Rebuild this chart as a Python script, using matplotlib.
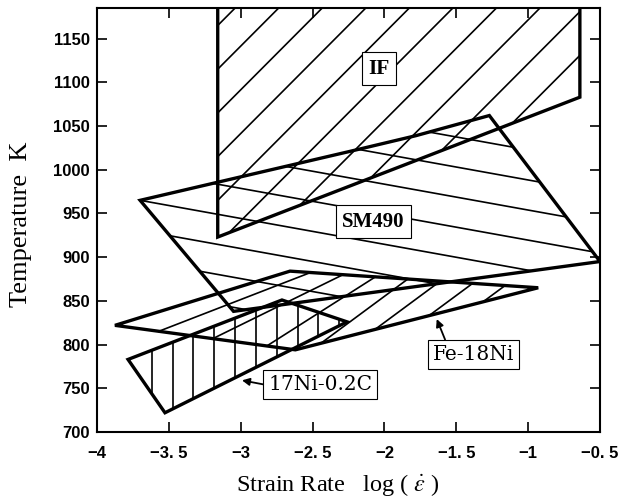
import numpy as np
import matplotlib as mpl
import matplotlib.pyplot as plt
from matplotlib.patches import Polygon

mpl.rcParams.update({
    "font.family": "serif",
    "font.serif": ["Liberation Serif", "DejaVu Serif"],
    "mathtext.fontset": "stix",
    "xtick.direction": "in",
    "ytick.direction": "in",
    "xtick.top": True,
    "ytick.right": True,
    "axes.linewidth": 1.5,
})

xTicks = [-4, -3.5, -3, -2.5, -2, -1.5, -1, -0.5]
xTickLabels = ["\u22124", "\u22123. 5", "\u22123", "\u22122. 5", "\u22122", "\u22121. 5", "\u22121", "\u22120. 5"]
yTicks = [700, 750, 800, 850, 900, 950, 1000, 1050, 1100, 1150]

# region outlines: log strain rate vs temperature (K)
ifRate = [-3.16, -3.16, -0.64, -0.64]
ifTemp = [1200, 923, 1083, 1200]
smRate = [-3.70, -2.24, -1.78, -1.27, -0.50, -3.05]
smTemp = [965, 1021, 1039, 1062, 895, 838]
feRate = [-3.875, -2.657, -0.93, -2.62]
feTemp = [822, 884, 865, 794]
niRate = [-3.784, -2.713, -2.26, -3.527]
niTemp = [783, 851, 826, 722]

HATCH_LW = 1.2
EDGE_LW = 2.4


def addRegion(ax, rate, temp):
    patch = Polygon(np.column_stack([rate, temp]), closed=True, fill=False,
                    ec="black", lw=EDGE_LW, joinstyle="miter", zorder=4)
    ax.add_patch(patch)
    return patch


def parallelHatch(ax, patch, anchor, slope, spacing, count=25):
    xs = np.array([-5.0, 0.5])
    for k in range(-count, count + 1):
        ts = anchor[1] + k * spacing + slope * (xs - anchor[0])
        line, = ax.plot(xs, ts, color="black", lw=HATCH_LW, zorder=3)
        line.set_clip_path(patch)


def verticalHatch(ax, patch, x0, step):
    for x in np.arange(x0, 0, step):
        line = ax.axvline(x, color="black", lw=HATCH_LW, zorder=3)
        line.set_clip_path(patch)


def fanHatch(ax, lowerX, lowerT, upperX, upperT, start, step, ratio):
    # lines from lower edge to upper edge, converging on the right tip
    xr = lowerX[-1]
    xl = start
    while xl > lowerX[0] + 0.05:
        xu = xr + ratio * (xl - xr)
        tl = np.interp(xl, lowerX, lowerT)
        tu = np.interp(xu, upperX, upperT)
        ax.plot([xl, xu], [tl, tu], color="black", lw=HATCH_LW, zorder=3)
        xl -= step


fig = plt.figure(figsize=(6.23, 4.97), dpi=100)
ax = fig.add_axes([97 / 623, 1 - 432 / 497, 503 / 623, 424 / 497])

# IF
p = addRegion(ax, ifRate, ifTemp)
parallelHatch(ax, p, (-3.16, 1115), 165, 50)

# SM490
p = addRegion(ax, smRate, smTemp)
parallelHatch(ax, p, (smRate[0], smTemp[0]), -29.6, 34.4)

# Fe-18Ni
addRegion(ax, feRate, feTemp)
fanHatch(ax,
         [feRate[0], feRate[3], feRate[2]], [feTemp[0], feTemp[3], feTemp[2]],
         [feRate[0], feRate[1], feRate[2]], [feTemp[0], feTemp[1], feTemp[2]],
         -1.314, 0.376, 0.6)

# 17Ni-0.2C
p = addRegion(ax, niRate, niTemp)
verticalHatch(ax, p, -3.619, 0.145)

boxBold = dict(boxstyle="square,pad=0.3", fc="white", ec="black", lw=0.8)
boxThin = dict(boxstyle="square,pad=0.25", fc="white", ec="black", lw=0.8)

ax.text(-2.036, 1115.6, "IF", fontsize=15.5, fontweight="bold", ha="center", va="center",
        bbox=boxBold, zorder=6)
ax.text(-2.079, 940.5, "SM490", fontsize=15, fontweight="bold", ha="center", va="center",
        bbox=boxBold, zorder=6)
ax.text(-1.38, 788.3, "Fe-18Ni", fontsize=14.5, family="DejaVu Serif", ha="center", va="center",
        bbox=boxThin, zorder=6)
ax.text(-2.448, 754.2, "17Ni-0.2C", fontsize=14.5, family="DejaVu Serif", ha="center", va="center",
        bbox=boxThin, zorder=6)

arrow = dict(arrowstyle="-|>", color="black", lw=1.3, mutation_scale=11, shrinkA=0, shrinkB=0)
ax.annotate("", xy=(-1.636, 829.2), xytext=(-1.578, 805.7), arrowprops=arrow, zorder=5)
ax.annotate("", xy=(-2.991, 759.1), xytext=(-2.796, 753.0), arrowprops=arrow, zorder=5)

ax.set_xlim(-4, -0.5)
ax.set_ylim(700, 1185)
ax.set_xticks(xTicks, xTickLabels, fontfamily="Liberation Sans", fontweight="bold")
ax.set_yticks(yTicks, [str(v) for v in yTicks], fontfamily="Liberation Sans", fontweight="bold")
ax.tick_params(which="major", length=7, width=1.2, labelsize=12)
ax.tick_params(axis="x", pad=10)
ax.tick_params(axis="y", pad=5)

ax.set_xlabel(r"Strain Rate   log ( $\dot{\varepsilon}$ )", fontsize=17.5)
ax.set_ylabel("Temperature  K", fontsize=19)
ax.xaxis.set_label_coords(0.479, -0.095)
ax.yaxis.set_label_coords(-0.13, 0.49)

plt.savefig("out.png", dpi=100)
